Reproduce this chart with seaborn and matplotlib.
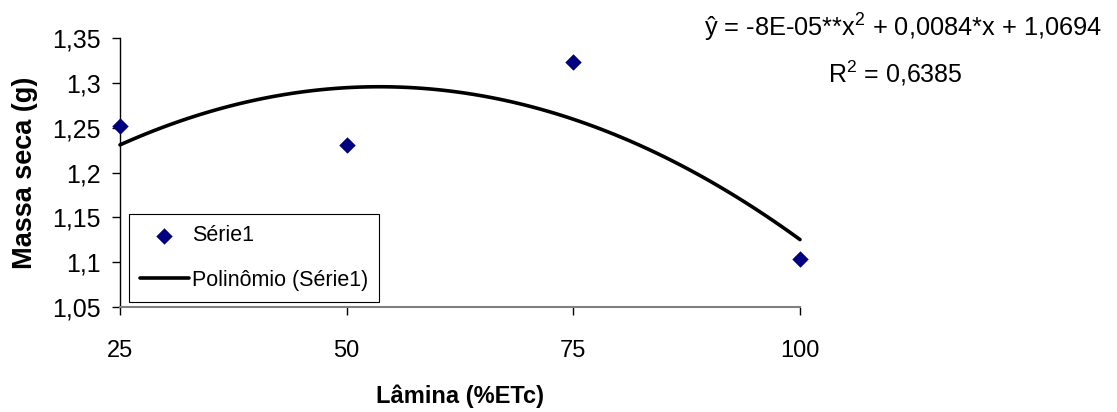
import matplotlib
matplotlib.use("Agg")
import matplotlib.pyplot as plt
import seaborn as sns
import pandas as pd
from matplotlib import font_manager

# Data
lamina = [25, 50, 75, 100]
massa_seca = [1.252, 1.231, 1.323, 1.104]
x_ticks = [25, 50, 75, 100]
y_ticks = [1.05, 1.1, 1.15, 1.2, 1.25, 1.3, 1.35]
y_tick_labels = ["1,05", "1,1", "1,15", "1,2", "1,25", "1,3", "1,35"]
eq_text = "ŷ = -8E-05**x$^{2}$ + 0,0084*x + 1,0694"
r2_text = "R$^{2}$ = 0,6385"

sns.set_theme(style="white")
plt.rcParams['font.family'] = ['Liberation Sans', 'DejaVu Sans']
plt.rcParams['mathtext.fontset'] = 'custom'
plt.rcParams['mathtext.rm'] = 'Liberation Sans'
plt.rcParams['text.color'] = 'black'
plt.rcParams['axes.labelcolor'] = 'black'
plt.rcParams['xtick.color'] = 'black'
plt.rcParams['ytick.color'] = 'black'

names = {f.name for f in font_manager.fontManager.ttflist}
narrow = 'Liberation Sans Narrow' if 'Liberation Sans Narrow' in names else 'Liberation Sans'
is_narrow = narrow != 'Liberation Sans'

df = pd.DataFrame({"x": lamina, "y": massa_seca})

fig = plt.figure(figsize=(11.17, 4.12), dpi=100)
ax = fig.add_axes([120/1117, 1-307/412, 680/1117, 269/412])

sns.scatterplot(data=df, x="x", y="y", marker="D", color="#000080",
                edgecolor="#000080", linewidth=0, s=70, label="Série1", ax=ax, zorder=3)
sns.regplot(data=df, x="x", y="y", order=2, ci=None, scatter=False, truncate=True,
            color="black", line_kws={"lw": 2.6}, label="Polinômio (Série1)", ax=ax)

ax.set_xlim(25, 100)
ax.set_ylim(1.05, 1.35)
ax.set_xticks(x_ticks)
ax.set_xticklabels([str(v) for v in x_ticks], fontsize=(18 if is_narrow else 17), family=narrow)
ax.set_yticks(y_ticks)
ax.set_yticklabels(y_tick_labels, fontsize=18)
ax.tick_params(axis="both", direction="out", length=6, width=1,
               color="black", bottom=True, left=True)
ax.tick_params(axis="y", pad=8)
ax.tick_params(axis="x", pad=18)

for s in ["top", "right"]:
    ax.spines[s].set_visible(False)
ax.spines["left"].set_color("black")
ax.spines["left"].set_linewidth(1)
ax.spines["bottom"].set_color("#808080")
ax.spines["bottom"].set_linewidth(1.5)
for c in ax.collections + ax.lines:
    c.set_clip_on(False)

ax.set_xlabel("Lâmina (%ETc)", fontsize=(19 if is_narrow else 17),
              fontweight="bold", labelpad=16, family=narrow)
ax.set_ylabel("Massa seca (g)", fontsize=19.5, fontweight="bold", labelpad=10)

leg = ax.legend(loc="lower left", bbox_to_anchor=(0.013, 0.02), fontsize=15.5,
                frameon=True, fancybox=False, edgecolor="black", framealpha=1,
                handlelength=2.3, handletextpad=0.15, borderpad=0.5, labelspacing=1.1,
                borderaxespad=0)
leg.get_frame().set_linewidth(0.8)

fig.text(903/1117, 1-28/412, eq_text, ha="center", va="center", fontsize=18.3)
fig.text(895/1117, 1-73/412, r2_text, ha="center", va="center", fontsize=18)

fig.savefig("out.png", dpi=100)
